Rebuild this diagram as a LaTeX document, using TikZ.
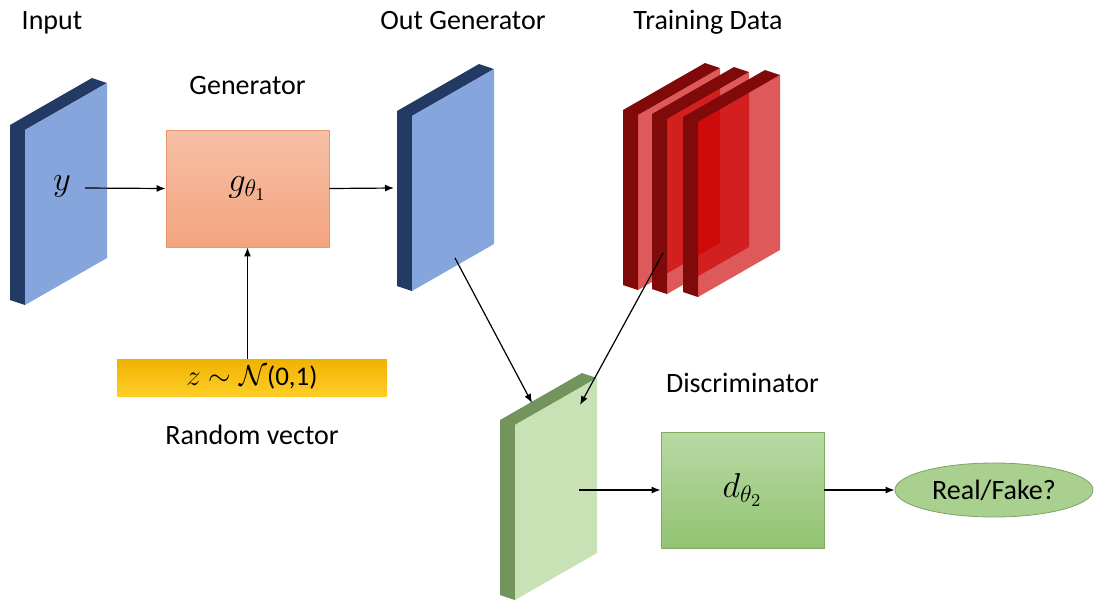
\documentclass[tikz,border=0pt]{standalone}
\usepackage{fontspec}
\setmainfont{Carlito}
\usetikzlibrary{positioning, shapes.geometric, arrows.meta}

\definecolor{plateblue}{RGB}{134,165,221}
\definecolor{plateblueside}{RGB}{34,58,100}
\definecolor{plategreen}{RGB}{200,226,182}
\definecolor{plategreenside}{RGB}{116,148,94}
\definecolor{platered}{RGB}{204,0,0}
\definecolor{plateredside}{RGB}{128,10,10}
\definecolor{gentop}{RGB}{246,192,166}
\definecolor{genbot}{RGB}{243,164,126}
\definecolor{genline}{RGB}{236,150,110}
\definecolor{disctop}{RGB}{184,217,163}
\definecolor{discbot}{RGB}{146,195,114}
\definecolor{discline}{RGB}{128,172,98}
\definecolor{ztop}{RGB}{240,178,0}
\definecolor{zbot}{RGB}{255,206,40}
\definecolor{rffill}{RGB}{169,208,142}
\definecolor{rfline}{RGB}{128,160,108}

\newcommand{\lblfont}{\fontsize{14}{17}\selectfont}
\newcommand{\mathfont}{\fontsize{18}{21}\selectfont}

% plate: #1 front colour, #2 side colour, #3 x, #4 y (front top-left), #5 opacity
\newcommand{\slab}[5]{%
    \fill[#2] (#3-15,#4-5) -- (#3+67,#4-52) -- (#3+82,#4-47) -- (#3,#4)
        -- (#3,#4+175) -- (#3-15,#4+170) -- cycle;
    \fill[#1, fill opacity=#5] (#3,#4) -- (#3+82,#4-47) -- (#3+82,#4+128)
        -- (#3,#4+175) -- cycle;
}

\begin{document}
\begin{tikzpicture}[
    x=0.5pt, y=-0.5pt,
    lbl/.style={font=\lblfont, inner sep=0pt},
    mathlbl/.style={font=\mathfont, inner sep=0pt},
    genbox/.style={draw=genline, top color=gentop, bottom color=genbot,
        minimum width=81.5pt, minimum height=58.5pt, font=\mathfont},
    discbox/.style={draw=discline, top color=disctop, bottom color=discbot,
        minimum width=81.5pt, minimum height=58pt, font=\mathfont},
    arr/.style={-{Latex[length=4.5pt, width=3.5pt]}, line width=0.6pt}
]
\useasboundingbox (0,0) rectangle (1094,602);

% Plates: input, generator output, training data, discriminator input
\slab{plateblue}{plateblueside}{25}{130}{1}
\slab{plateblue}{plateblueside}{412}{116}{1}
\slab{platered}{plateredside}{638}{115}{0.65}
\slab{platered}{plateredside}{667}{119}{0.65}
\slab{platered}{plateredside}{698}{122}{0.65}
\slab{plategreen}{plategreenside}{515}{425}{1}

% Top labels
\node[lbl, anchor=base] (inlbl) at (52,29) {Input};
\node[lbl, anchor=base] (oglbl) at (463,29) {Out Generator};
\node[lbl, anchor=base] (tdlbl) at (708,29) {Training Data};

% Generator
\node[mathlbl] (yin) at (62,186) {$y$};
\node[genbox] (gen) at (247.5,188.5) {$g_{\theta_1}$};
\node[lbl, above=17.5pt of gen] (genlbl) {Generator};

% Random vector
\node[top color=ztop, bottom color=zbot, minimum width=135pt,
      minimum height=18.5pt, inner sep=0pt, font=\fontsize{13.5}{16}\selectfont]
      (zbar) at (252,377.5) {$z \sim \mathcal{N}$(0,1)};
\node[lbl, below=14pt of zbar] (zlbl) {Random vector};

% Discriminator
\node[discbox] (disc) at (742.5,490) {$d_{\theta_2}$};
\node[lbl, above=19.5pt of disc] (disclbl) {Discriminator};
\node[ellipse, draw=rfline, fill=rffill, minimum width=99pt, minimum height=27pt,
      inner sep=0pt, font=\lblfont] (rf) at (994,490) {Real/Fake?};

% Connector end points on the plates
\coordinate (yout) at (85,188);
\coordinate (ogin) at (394,188);
\coordinate (ogout) at (455,258);
\coordinate (tdout) at (663,253);
\coordinate (dpin1) at (532,403);
\coordinate (dpin2) at (580,405);
\coordinate (dpout) at (579,490);

% Arrows
\draw[arr] (yout) -- (gen.west);
\draw[arr] (gen.east) -- (ogin);
\draw[arr] (zbar.north -| gen.south) -- (gen.south);
\draw[arr] (ogout) -- (dpin1);
\draw[arr] (tdout) -- (dpin2);
\draw[arr] (dpout) -- (disc.west);
\draw[arr] (disc.east) -- (rf.west);

\end{tikzpicture}
\end{document}
